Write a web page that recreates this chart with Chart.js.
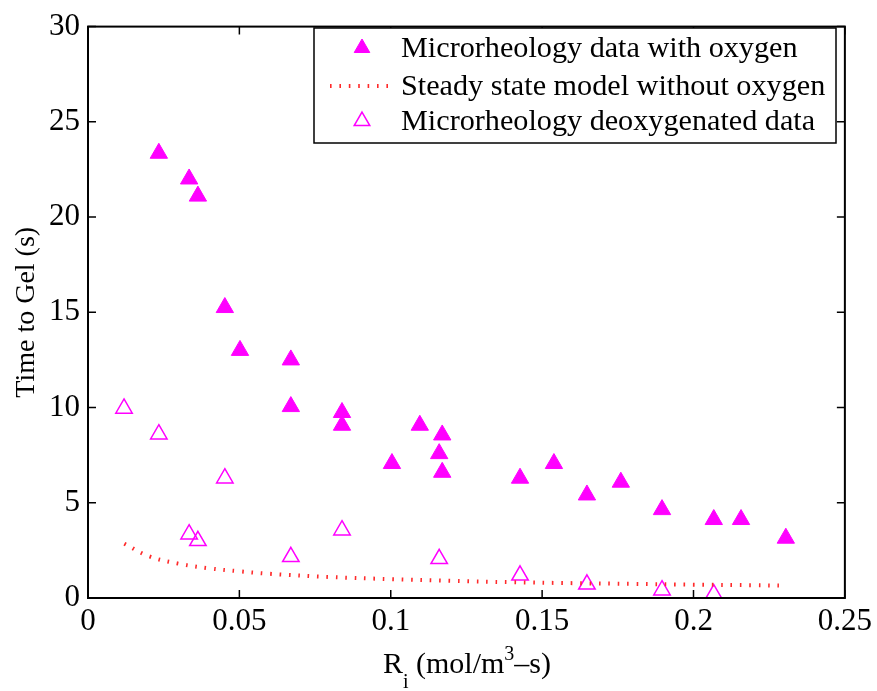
<!DOCTYPE html>
<html>
<head>
<meta charset="utf-8">
<script src="https://cdn.jsdelivr.net/npm/chart.js@4/dist/chart.umd.min.js"></script>
<style>
  html, body { margin: 0; padding: 0; background: #fff; }
  #wrap { width: 877px; height: 691px; }
</style>
</head>
<body>
<div id="wrap"><canvas id="myChart" width="877" height="691"></canvas></div>
<script>
// values
var oxyX = [0.0234, 0.0334, 0.0363, 0.0452, 0.0502, 0.067, 0.067, 0.0839, 0.0839, 0.1004, 0.1096,
            0.116, 0.117, 0.117, 0.1427, 0.1539, 0.1648, 0.176, 0.1896, 0.2067, 0.2157, 0.2305];
var oxyY = [23.35, 22.0, 21.1, 15.25, 13.0, 12.5, 10.05, 9.74, 9.07, 7.06, 9.07,
            7.58, 8.56, 6.6, 6.29, 7.06, 5.41, 6.08, 4.64, 4.12, 4.12, 3.14];

var deoxyX = [0.0119, 0.0234, 0.0334, 0.0363, 0.0452, 0.067, 0.0839, 0.116, 0.1427, 0.1648, 0.1896, 0.2067];
var deoxyY = [9.95, 8.6, 3.35, 3.0, 6.29, 2.16, 3.56, 2.06, 1.19, 0.72, 0.41, 0.21];

var modelX = [0.012, 0.02, 0.03, 0.04, 0.05, 0.06, 0.08, 0.1, 0.12, 0.14, 0.16, 0.18, 0.2, 0.22, 0.23];
var modelY = [2.85, 2.2, 1.8, 1.56, 1.4, 1.27, 1.1, 0.99, 0.9, 0.83, 0.78, 0.74, 0.7, 0.67, 0.65];

var xTicks = [0, 0.05, 0.1, 0.15, 0.2, 0.25];
var xTickLabels = ['0', '0.05', '0.1', '0.15', '0.2', '0.25'];
var yTicks = [0, 5, 10, 15, 20, 25, 30];
var yTickLabels = ['0', '5', '10', '15', '20', '25', '30'];

var seriesNames = ['Microrheology data with oxygen', 'Steady state model without oxygen', 'Microrheology deoxygenated data'];

function pts(xs, ys) {
  return xs.map(function (x, i) { return { x: x, y: ys[i] }; });
}

var FONT = "'Liberation Serif', 'Times New Roman', serif";
var MAGENTA = '#ff00ff';
var RED = '#ff2a2a';

// box round the plot with inward ticks on every side
var framePlugin = {
  id: 'frame',
  afterDatasetsDraw: function (chart) {
    var ctx = chart.ctx, a = chart.chartArea;
    var xs = chart.scales.x, ys = chart.scales.y;
    ctx.save();
    ctx.strokeStyle = '#000';
    ctx.lineWidth = 1.5;
    ctx.beginPath();
    xTicks.forEach(function (v) {
      var px = xs.getPixelForValue(v);
      ctx.moveTo(px, a.bottom); ctx.lineTo(px, a.bottom - 8);
      ctx.moveTo(px, a.top); ctx.lineTo(px, a.top + 8);
    });
    yTicks.forEach(function (v) {
      var py = ys.getPixelForValue(v);
      ctx.moveTo(a.left, py); ctx.lineTo(a.left + 8, py);
      ctx.moveTo(a.right, py); ctx.lineTo(a.right - 8, py);
    });
    ctx.stroke();
    ctx.lineWidth = 2;
    ctx.strokeRect(a.left, a.top, a.right - a.left, a.bottom - a.top);
    ctx.restore();
  }
};

// legend box top right, and x title with sub/superscript
var legendPlugin = {
  id: 'boxLegend',
  afterDraw: function (chart) {
    var ctx = chart.ctx;
    ctx.save();
    var bx = 314, by = 28, bw = 522, bh = 115;
    ctx.fillStyle = '#fff';
    ctx.fillRect(bx, by, bw, bh);
    ctx.strokeStyle = '#000';
    ctx.lineWidth = 1.5;
    ctx.strokeRect(bx, by, bw, bh);

    var rows = [48, 86, 121];
    var ds = chart.data.datasets;
    [0, 1, 2].forEach(function (i) {
      var d = ds[i], cy = rows[i];
      if (i === 1) {
        ctx.save();
        ctx.strokeStyle = d.borderColor;
        ctx.lineWidth = d.borderWidth;
        ctx.setLineDash(d.borderDash);
        ctx.beginPath();
        ctx.moveTo(330, cy); ctx.lineTo(390, cy);
        ctx.stroke();
        ctx.restore();
      } else if (Chart.helpers && Chart.helpers.drawPoint) {
        ctx.save();
        ctx.fillStyle = d.backgroundColor;
        ctx.strokeStyle = d.borderColor;
        ctx.lineWidth = d.borderWidth;
        Chart.helpers.drawPoint(ctx, { pointStyle: 'triangle', radius: 9, rotation: 0, borderWidth: d.borderWidth }, 362, cy);
        ctx.restore();
      }
      ctx.fillStyle = '#000';
      ctx.font = '30.2px ' + FONT;
      ctx.textBaseline = 'middle';
      ctx.textAlign = 'left';
      ctx.fillText(seriesNames[i], 401, cy + 1);
    });

    // x title: R_i (mol/m^3-s)
    var parts = [
      { t: 'R', size: 30, dy: 0 },
      { t: 'i', size: 20, dy: 15 },
      { t: ' (mol/m', size: 30, dy: 0 },
      { t: '3', size: 20, dy: -13 },
      { t: '\u2013s)', size: 30, dy: 0 }
    ];
    var total = 0;
    parts.forEach(function (p) { ctx.font = p.size + 'px ' + FONT; p.w = ctx.measureText(p.t).width; total += p.w; });
    var x = 467 - total / 2, base = 673;
    ctx.textBaseline = 'alphabetic';
    ctx.fillStyle = '#000';
    parts.forEach(function (p) {
      ctx.font = p.size + 'px ' + FONT;
      ctx.fillText(p.t, x, base + p.dy);
      x += p.w;
    });
    ctx.restore();
  }
};

var ctx = document.getElementById('myChart').getContext('2d');
var chart = new Chart(ctx, {
  type: 'scatter',
  data: {
    datasets: [{
      label: seriesNames[0],
      data: pts(oxyX, oxyY),
      pointStyle: 'triangle',
      pointRadius: 10,
      pointHoverRadius: 10,
      backgroundColor: MAGENTA,
      borderColor: MAGENTA,
      borderWidth: 1,
      showLine: false
    }, {
      label: seriesNames[1],
      data: pts(modelX, modelY),
      showLine: true,
      pointRadius: 0,
      borderColor: RED,
      borderWidth: 4,
      borderDash: [1.6, 7.8],
      borderCapStyle: 'butt',
      tension: 0.4,
      fill: false
    }, {
      label: seriesNames[2],
      data: pts(deoxyX, deoxyY),
      pointStyle: 'triangle',
      pointRadius: 9.5,
      pointHoverRadius: 9.5,
      backgroundColor: 'rgba(0,0,0,0)',
      borderColor: MAGENTA,
      borderWidth: 1.5,
      showLine: false
    }]
  },
  options: {
    responsive: false,
    animation: false,
    layout: { padding: { left: 0, top: 16, right: 32, bottom: 0 } },
    plugins: {
      legend: { display: false },
      tooltip: { enabled: false }
    },
    scales: {
      x: {
        type: 'linear',
        min: 0,
        max: 0.25,
        afterBuildTicks: function (s) { s.ticks = xTicks.map(function (v) { return { value: v }; }); },
        afterFit: function (s) { s.height = 93; },
        grid: { display: false, drawTicks: false },
        border: { display: false },
        ticks: {
          padding: 5,
          color: '#000',
          font: { family: FONT, size: 31 },
          maxRotation: 0,
          callback: function (v, i) { return xTickLabels[i]; }
        },
        title: { display: false }
      },
      y: {
        type: 'linear',
        min: 0,
        max: 30,
        afterBuildTicks: function (s) { s.ticks = yTicks.map(function (v) { return { value: v }; }); },
        afterFit: function (s) { s.width = 88; },
        grid: { display: false, drawTicks: false },
        border: { display: false },
        ticks: {
          padding: 8,
          color: '#000',
          font: { family: FONT, size: 31 },
          callback: function (v, i) { return yTickLabels[i]; }
        },
        title: {
          display: true,
          text: 'Time to Gel (s)',
          color: '#000',
          font: { family: FONT, size: 28 },
          padding: { top: 10, bottom: 0 }
        }
      }
    }
  },
  plugins: [framePlugin, legendPlugin]
});
</script>
</body>
</html>
